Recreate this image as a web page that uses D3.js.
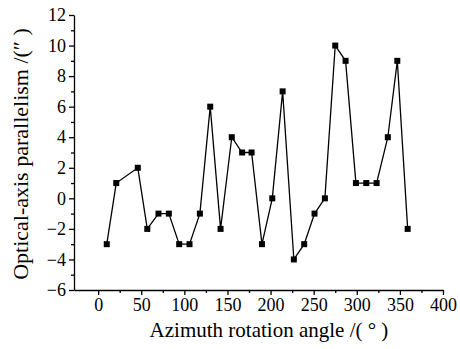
<!DOCTYPE html>
<html>
<head>
<meta charset="utf-8">
<script src="https://cdn.jsdelivr.net/npm/d3@7"></script>
<style>
  body { margin: 0; background: #fff; }
</style>
</head>
<body>
<div id="chart"></div>
<script>
// azimuth angle (deg) and parallelism (arcsec)
var angles = [10, 21, 46, 57, 70, 82, 94, 106, 118, 130, 142, 155, 167, 178, 190,
              202, 214, 227, 239, 251, 263, 275, 287, 299, 311, 323, 336, 347, 359];
var parallelism = [-3, 1, 2, -2, -1, -1, -3, -3, -1, 6, -2, 4, 3, 3, -3,
                   0, 7, -4, -3, -1, 0, 10, 9, 1, 1, 1, 4, 9, -2];
var xTicks = [0, 50, 100, 150, 200, 250, 300, 350, 400];
var yTicks = [-6, -4, -2, 0, 2, 4, 6, 8, 10, 12];

var serif = "'Liberation Serif', 'Times New Roman', serif";
var width = 460, height = 349;
var margin = {left: 74, right: 17, top: 15, bottom: 59};

var svg = d3.select("#chart").append("svg")
    .attr("width", width)
    .attr("height", height);

var x = d3.scaleLinear().domain([-28, 400]).range([margin.left, width - margin.right]);
var y = d3.scaleLinear().domain([-6, 12]).range([height - margin.bottom, margin.top]);

// minor ticks first
svg.append("g")
    .attr("transform", "translate(0," + y(-6) + ")")
    .call(d3.axisBottom(x).tickValues(d3.range(25, 400, 50)).tickSize(3).tickFormat(""))
    .call(function (g) { g.select(".domain").remove(); });
svg.append("g")
    .attr("transform", "translate(" + x(-28) + ",0)")
    .call(d3.axisLeft(y).tickValues(d3.range(-5, 12, 2)).tickSize(3).tickFormat(""))
    .call(function (g) { g.select(".domain").remove(); });

var xAxis = svg.append("g")
    .attr("transform", "translate(0," + y(-6) + ")")
    .call(d3.axisBottom(x).tickValues(xTicks).tickSize(5).tickPadding(3).tickSizeOuter(0));

var yAxis = svg.append("g")
    .attr("transform", "translate(" + x(-28) + ",0)")
    .call(d3.axisLeft(y).tickValues(yTicks).tickSize(5).tickPadding(3).tickSizeOuter(0)
      .tickFormat(function (d) { return d < 0 ? "\u2212" + Math.abs(d) : d; }));

[xAxis, yAxis].forEach(function (g) {
  g.attr("font-family", serif).attr("font-size", 18);
  g.selectAll("text").attr("fill", "#000");
});

svg.selectAll(".domain, .tick line").attr("stroke", "#000").attr("stroke-width", 1.3);

var pts = angles.map(function (a, i) { return [a, parallelism[i]]; });

svg.append("path")
    .datum(pts)
    .attr("fill", "none")
    .attr("stroke", "#000")
    .attr("stroke-width", 1.3)
    .attr("d", d3.line().x(function (d) { return x(d[0]); }).y(function (d) { return y(d[1]); }));

svg.selectAll("rect.pt")
    .data(pts)
    .enter().append("rect")
    .attr("class", "pt")
    .attr("x", function (d) { return x(d[0]) - 3; })
    .attr("y", function (d) { return y(d[1]) - 3; })
    .attr("width", 6)
    .attr("height", 6)
    .attr("fill", "#000");

svg.append("text")
    .attr("x", 269)
    .attr("y", 337)
    .attr("text-anchor", "middle")
    .attr("font-family", serif)
    .attr("font-size", 21)
    .text("Azimuth rotation angle /( \u00b0 )");

svg.append("text")
    .attr("transform", "translate(28,154) rotate(-90)")
    .attr("text-anchor", "middle")
    .attr("font-family", serif)
    .attr("font-size", 22)
    .text("Optical-axis parallelism /(\u2033 )");
</script>
</body>
</html>
